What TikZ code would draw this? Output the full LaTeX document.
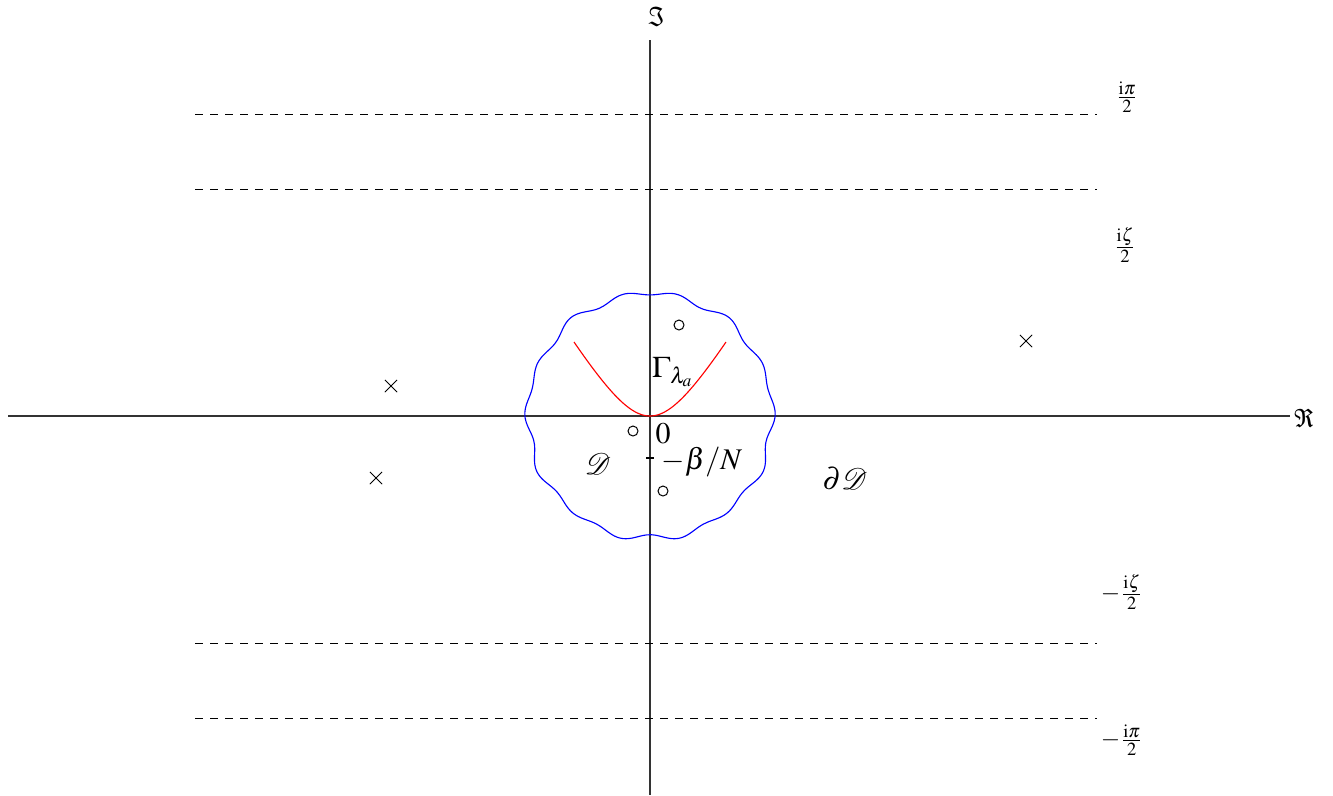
\documentclass[tikz,border=0pt]{standalone}
\usepackage{mathptmx}
\usepackage{mathrsfs}
\usetikzlibrary{shapes.misc}
\begin{document}
\begin{tikzpicture}[x=0.4pt,y=-0.4pt,
  axis/.style={line width=0.45pt,black!80},
  level/.style={dashed,line width=0.4pt,dash pattern=on 3.2pt off 2.8pt},
  lbl/.style={inner sep=0pt},
  big/.style={inner sep=0pt,font=\large},
  pole/.style={circle,draw,minimum size=4pt,inner sep=0pt,line width=0.4pt},
  zero/.style={cross out,draw,minimum size=4.5pt,inner sep=0pt,line width=0.4pt}]
\useasboundingbox (0,0) rectangle (1333,795);
% axes
\coordinate (xl) at (8,416);
\coordinate (xr) at (1290,416);
\coordinate (yt) at (650,40);
\coordinate (yb) at (650,795);
\draw[axis] (xl) -- (xr);
\draw[axis] (yt) -- (yb);
\node[lbl] (re) at (1304,418) {$\Re$};
\node[lbl] (im) at (657,17) {$\Im$};
% dashed levels
\foreach \y/\n in {114/a,189/b,643/c,718/d}{
  \coordinate (l\n) at (195,\y);
  \coordinate (r\n) at (1097,\y);
  \draw[level] (l\n) -- (r\n);
}
\node[lbl] (ipi) at (1127,97) {$\frac{\mathrm{i}\pi}{2}$};
\node[lbl] (izeta) at (1125,245) {$\frac{\mathrm{i}\zeta}{2}$};
\node[lbl] (mizeta) at (1122,592) {$-\frac{\mathrm{i}\zeta}{2}$};
\node[lbl] (mipi) at (1122,740) {$-\frac{\mathrm{i}\pi}{2}$};
% blue contour
\draw[blue,line width=0.45pt] plot[smooth cycle,samples=169,domain=0:357.86]
  ({650+(122.5+2.6*cos(14*\x)+1.2*sin(9*\x))*cos(\x)},{416-(122.5+2.6*cos(14*\x)+1.2*sin(9*\x))*sin(\x)});
% red curve
\draw[red,line width=0.45pt] plot[smooth,samples=61,domain=-76:76]
  ({650+\x},{416-71.8*(sqrt(1+(\x/43)^2)-1)});
% markers
\node[zero] (z1) at (391,386) {};
\node[zero] (z2) at (376,478) {};
\node[zero] (z3) at (1026,341) {};
\node[pole] (p1) at (679,325) {};
\node[pole] (p2) at (633,431) {};
\node[pole] (p3) at (663,491) {};
% tick
\coordinate (t1) at (646,458);
\coordinate (t2) at (654,458);
\draw[line width=0.6pt] (t1) -- (t2);
% labels
\node[big] (gam) at (673,372) {$\Gamma_{\lambda_a}$};
\node[big] (zer) at (663,434) {$0$};
\node[big] (bn) at (702,462) {$-\beta/N$};
\node[big] (dd) at (598,464) {$\mathscr{D}$};
\node[big] (pdd) at (845,479) {$\partial\mathscr{D}$};
\end{tikzpicture}
\end{document}
